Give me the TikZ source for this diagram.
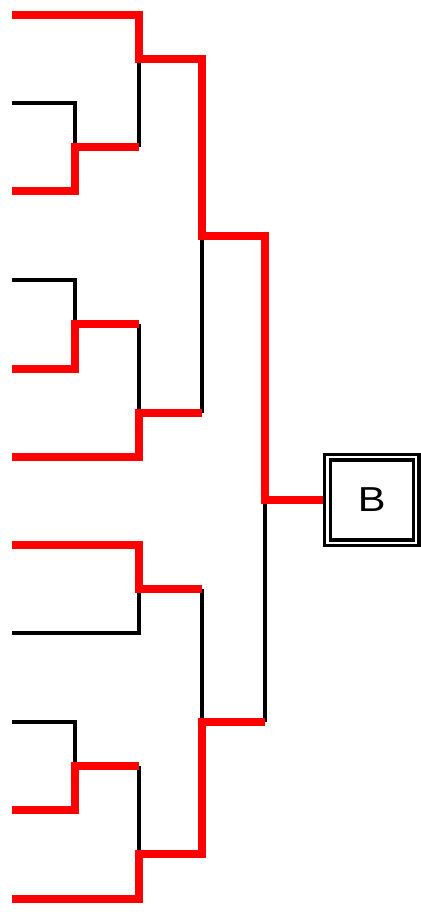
\documentclass[tikz,border=0pt]{standalone}
\usepackage{fontspec}
\newfontfamily\boxfont{Liberation Sans}
\usepackage{graphicx}
\usepackage{xcolor}
\definecolor{hred}{HTML}{ff0000}

\begin{document}
\begin{tikzpicture}[x=0.75pt,y=-0.75pt,
    winner/.style={draw=hred, line width=5.5pt},
    loser/.style={draw=black, line width=2.5pt},
    final/.style={draw=black, double, line width=2.6pt, double distance=1.7pt,
      minimum width=66.5pt, minimum height=64pt, inner sep=0pt, outer sep=3.5pt,
      font=\boxfont\fontsize{26}{26}\selectfont}]
                  \useasboundingbox (0,0) rectangle (421,922);
                  % entrants
                  \coordinate (l0) at (12,15);
                  \coordinate (l1) at (12,103);
                  \coordinate (l2) at (12,191);
                  \coordinate (l3) at (12,280);
                  \coordinate (l4) at (12,369);
                  \coordinate (l5) at (12,457);
                  \coordinate (l6) at (12,545);
                  \coordinate (l7) at (12,633);
                  \coordinate (l8) at (12,722);
                  \coordinate (l9) at (12,810);
                  \coordinate (l10) at (12,899);
                  % matches
                  \coordinate (m1) at (75,147);
                  \coordinate (m2) at (75,324);
                  \coordinate (m3) at (139,59);
                  \coordinate (m4) at (139,413);
                  \coordinate (m5) at (202,236);
                  \coordinate (m6) at (139,589);
                  \coordinate (m7) at (75,766);
                  \coordinate (m8) at (139,854);
                  \coordinate (m9) at (202,722);
                  \coordinate (m10) at (265,500);
                  \node[final] (b) at (371.8,500) {\scalebox{1.2}[1]{B}};
                  % losing lines
                  \draw[loser] (l1) -| (m1);
                  \draw[loser] (m1 -| m3) -- (m3);
                  \draw[loser] (l3) -| (m2);
                  \draw[loser] (m2 -| m4) -- (m4);
                  \draw[loser] (m4 -| m5) -- (m5);
                  \draw[loser] (l7) -| (m6);
                  \draw[loser] (m6 -| m9) -- (m9);
                  \draw[loser] (l8) -| (m7);
                  \draw[loser] (m7 -| m8) -- (m8);
                  \draw[loser] (m9 -| m10) -- (m10);
                  % winning lines
                  \draw[winner] (l0) -| (m3) -| (m5) -| (m10) -- (b.west);
                  \draw[winner] (l2) -| (m1) -- (m1 -| m3);
                  \draw[winner] (l4) -| (m2) -- (m2 -| m4);
                  \draw[winner] (l5) -| (m4) -- (m4 -| m5);
                  \draw[winner] (l6) -| (m6) -- (m6 -| m9);
                  \draw[winner] (l9) -| (m7) -- (m7 -| m8);
                  \draw[winner] (l10) -| (m8) -| (m9) -- (m9 -| m10);
                \end{tikzpicture}
\end{document}
